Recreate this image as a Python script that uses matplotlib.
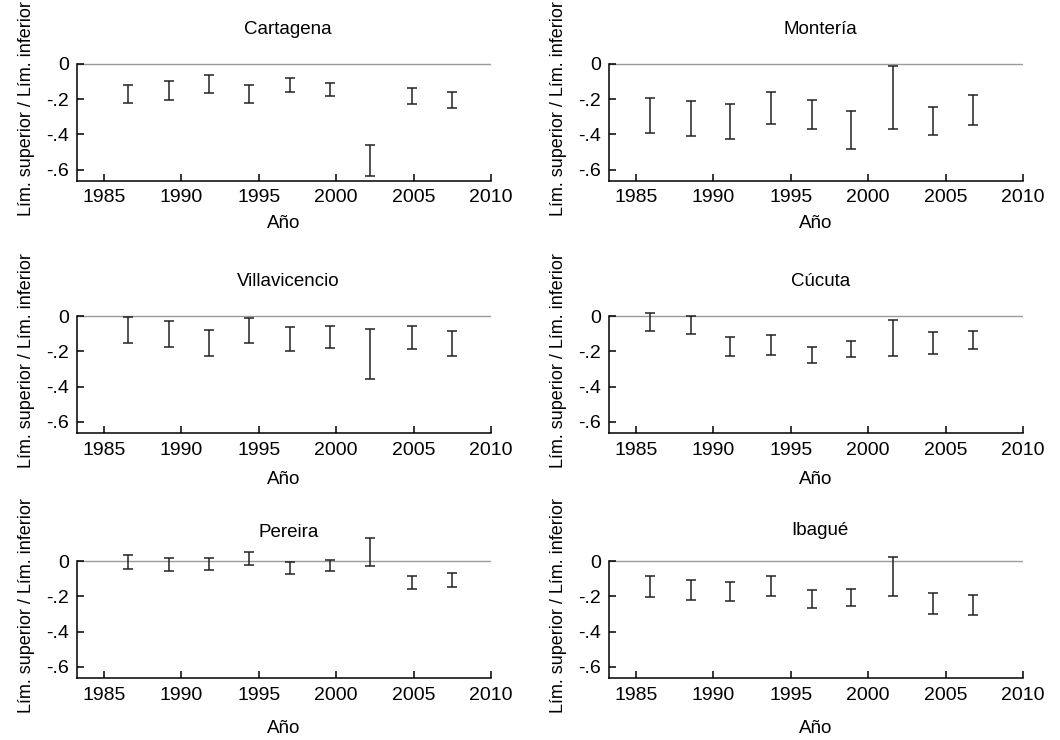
import numpy as np
import matplotlib
matplotlib.use('Agg')
import matplotlib.pyplot as plt

plt.rcParams['font.family'] = ['Liberation Sans', 'DejaVu Sans']

# survey years, left and right column
years_left = [1986.53, 1989.2, 1991.78, 1994.39, 1997.02, 1999.6, 2002.18, 2004.9, 2007.46]
years_right = [1985.93, 1988.55, 1991.1, 1993.74, 1996.35, 1998.9, 2001.59, 2004.19, 2006.77]

# upper / lower limits per city
cartagena_hi = [-0.117, -0.098, -0.064, -0.121, -0.081, -0.106, -0.458, -0.136, -0.161]
cartagena_lo = [-0.220, -0.204, -0.163, -0.220, -0.159, -0.182, -0.636, -0.229, -0.248]
monteria_hi = [-0.193, -0.212, -0.225, -0.157, -0.203, -0.267, -0.009, -0.242, -0.176]
monteria_lo = [-0.390, -0.407, -0.428, -0.339, -0.367, -0.481, -0.369, -0.405, -0.348]
villavicencio_hi = [-0.004, -0.027, -0.078, -0.010, -0.061, -0.055, -0.072, -0.053, -0.086]
villavicencio_lo = [-0.150, -0.175, -0.226, -0.152, -0.198, -0.179, -0.358, -0.188, -0.226]
cucuta_hi = [0.017, 0.004, -0.116, -0.109, -0.175, -0.143, -0.019, -0.090, -0.083]
cucuta_lo = [-0.082, -0.101, -0.226, -0.220, -0.268, -0.234, -0.226, -0.215, -0.186]
pereira_hi = [0.034, 0.017, 0.021, 0.055, -0.004, 0.009, 0.134, -0.085, -0.068]
pereira_lo = [-0.042, -0.053, -0.047, -0.023, -0.074, -0.055, -0.027, -0.159, -0.144]
ibague_hi = [-0.085, -0.106, -0.115, -0.083, -0.161, -0.159, 0.026, -0.180, -0.193]
ibague_lo = [-0.204, -0.219, -0.225, -0.195, -0.267, -0.257, -0.197, -0.300, -0.303]

xticks = [1985, 1990, 1995, 2000, 2005, 2010]
yticks = [0, -0.2, -0.4, -0.6]
ytick_labels = ['0', '-.2', '-.4', '-.6']

# name, years, hi, lo, axes corner (pixels: left, top), xlabel pad, title offset (px above 0)
panels = [
    ('Cartagena', years_left, cartagena_hi, cartagena_lo, (77.3, 35.8), 6, 34),
    ('Montería', years_right, monteria_hi, monteria_lo, (609.3, 35.8), 6, 34),
    ('Villavicencio', years_left, villavicencio_hi, villavicencio_lo, (77.3, 288.1), 9, 35),
    ('Cúcuta', years_right, cucuta_hi, cucuta_lo, (609.3, 288.1), 9, 35),
    ('Pereira', years_left, pereira_hi, pereira_lo, (77.3, 533.1), 12, 29),
    ('Ibagué', years_right, ibague_hi, ibague_lo, (609.3, 533.1), 12, 31),
]

W, H = 1060, 740
fig = plt.figure(figsize=(W/100, H/100), dpi=100)

for name, yrs, hi, lo, (lpx, tpx), xpad, toff in panels:
    wpx, hpx = 413.7, 145.2
    ax = fig.add_axes([lpx/W, 1 - (tpx+hpx)/H, wpx/W, hpx/H])
    hi = np.array(hi)
    lo = np.array(lo)
    mid = (hi + lo)/2
    ax.axhline(0, color='#9a9a9a', lw=1.0, zorder=1)
    ax.errorbar(yrs, mid, yerr=(hi-lo)/2, fmt='none', ecolor='#222222',
                elinewidth=1.1, capsize=3.5, capthick=1.1, zorder=3)
    ax.set_xlim(1983.28, 2010)
    ax.set_ylim(-0.665, 0.16)
    ax.set_xticks(xticks)
    ax.set_yticks(yticks)
    ax.set_yticklabels(ytick_labels)
    for s in ['top', 'right']:
        ax.spines[s].set_visible(False)
    ax.spines['left'].set_bounds(-0.665, 0)
    ax.spines['left'].set_linewidth(1.1)
    ax.spines['bottom'].set_linewidth(1.1)
    ax.tick_params(axis='both', direction='in', length=5, width=1.1, labelsize=14, pad=6)
    ax.set_xlabel('Año', fontsize=13.5, labelpad=xpad)
    ax.set_ylabel('Lím. superior / Lím. inferior', fontsize=13, labelpad=8)
    ax.annotate(name, xy=(0.51, 0), xycoords=('axes fraction', 'data'),
                xytext=(0, toff*0.72), textcoords='offset points',
                ha='center', va='center', fontsize=13.5)

fig.savefig('out.png', dpi=100)
